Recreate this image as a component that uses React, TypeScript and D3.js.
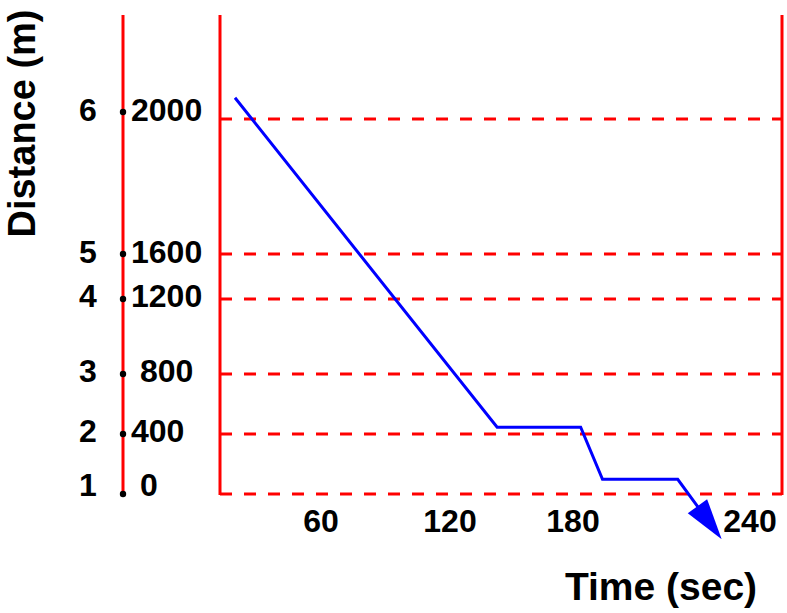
import React from "react";
import * as d3 from "d3";

// ---- data ----
const times = [20, 143, 182.6, 190, 215.5, 230.4];
const distances = [2063, 445, 445, 98, 98, -302];
const yTickValues = [0, 400, 800, 1200, 1600, 2000];
const yTickLabels = [" 0", "400", " 800", "1200", "1600", "2000"];
const yIndexLabels = ["1", "2", "3", "4", "5", "6"];
const xTickValues = [60, 120, 180, 240];
const xTickLabels = ["60", "120", "180", "240"];

const W = 787;
const H = 613;
const FONT = "'Liberation Sans', Arial, Helvetica, sans-serif";
const RED = "#ff0000";
const BLUE = "#0000ff";

export default function App() {
  // hand-drawn, non-uniform axes -> piecewise linear scales
  const x = d3.scaleLinear().domain(xTickValues).range([321, 450, 573, 750]);
  const y = d3.scaleLinear().domain(yTickValues).range([494, 434, 374, 299, 254, 119]);

  const axisLeftX = 123;
  const plotLeft = 220;
  const plotRight = 782;
  const top = 15;
  const bottom = y(0);

  // small layout nudges seen in the drawing
  const dotNudge = [0, 0, 0, 0, 0, -7];
  const labelNudge = [2, 8, 8, 8, 9, 9];

  const pts: [number, number][] = times.map((t, i) => [x(t), y(distances[i])]);
  const n = pts.length;
  const tip = pts[n - 1];
  const prev = pts[n - 2];
  const dx = tip[0] - prev[0];
  const dy = tip[1] - prev[1];
  const len = Math.hypot(dx, dy);
  const ux = dx / len;
  const uy = dy / len;
  const headLen = 41;
  const headHalf = 12;
  const base: [number, number] = [tip[0] - ux * headLen, tip[1] - uy * headLen];
  const linePts: [number, number][] = [...pts.slice(0, n - 1), [base[0] + ux * 2, base[1] + uy * 2]];
  const line = d3.line<[number, number]>();
  const head = [
    tip,
    [base[0] - uy * headHalf, base[1] + ux * headHalf],
    [base[0] + uy * headHalf, base[1] - ux * headHalf],
  ];

  return (
    <svg
      width={W}
      height={H}
      viewBox={`0 0 ${W} ${H}`}
      style={{ position: "absolute", left: 0, top: 0, background: "#fff" }}
      fontFamily={FONT}
      fontWeight="bold"
    >
      {/* gridlines */}
      {yTickValues.map((v) => (
        <line
          key={"g" + v}
          x1={plotLeft}
          x2={plotRight}
          y1={y(v)}
          y2={y(v)}
          stroke={RED}
          strokeWidth={3}
          strokeDasharray="12 12"
        />
      ))}
      {/* vertical red lines */}
      {[axisLeftX, plotLeft, plotRight].map((xx) => (
        <line key={"v" + xx} x1={xx} x2={xx} y1={top} y2={bottom + 1} stroke={RED} strokeWidth={3} />
      ))}
      {/* dots and labels */}
      {yTickValues.map((v, i) => {
        const dyv = y(v) + dotNudge[i];
        return (
          <g key={"t" + v}>
            <circle cx={axisLeftX} cy={dyv} r={3.2} fill="#000" />
            <text x={88} y={dyv + labelNudge[i]} fontSize={32} textAnchor="middle" fill="#000">
              {yIndexLabels[i]}
            </text>
            <text x={131} y={dyv + labelNudge[i]} fontSize={32} fill="#000" style={{ whiteSpace: "pre" }}>
              {yTickLabels[i]}
            </text>
          </g>
        );
      })}
      {/* x tick labels */}
      {xTickValues.map((v, i) => (
        <text key={"x" + v} x={x(v)} y={532} fontSize={32} textAnchor="middle" fill="#000">
          {xTickLabels[i]}
        </text>
      ))}
      {/* data line */}
      <path d={line(linePts) || ""} fill="none" stroke={BLUE} strokeWidth={3} strokeLinejoin="miter" />
      <polygon points={head.map((p) => p.join(",")).join(" ")} fill={BLUE} />
      {/* titles */}
      <text x={661} y={600} fontSize={39} textAnchor="middle" fill="#000">
        Time (sec)
      </text>
      <text
        transform="translate(35,123.5) rotate(-90)"
        fontSize={38}
        textAnchor="middle"
        fill="#000"
      >
        Distance (m)
      </text>
    </svg>
  );
}
